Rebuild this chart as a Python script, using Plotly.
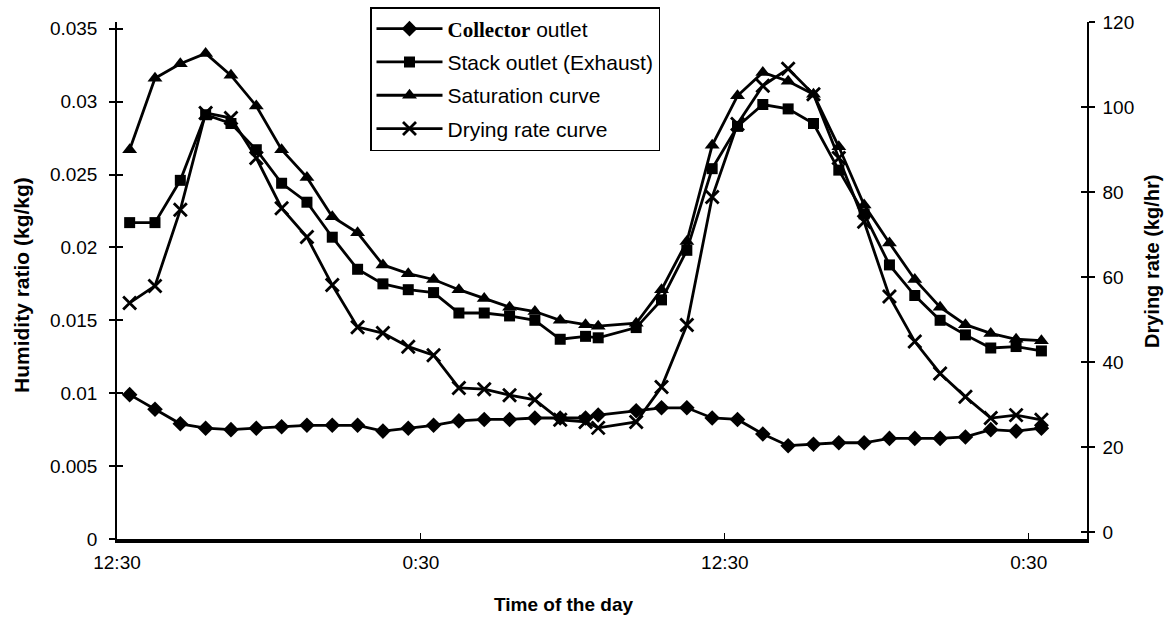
import plotly.graph_objects as go

# ---------------- data ----------------
hours = [13, 14, 15, 16, 17, 18, 19, 20, 21, 22, 23, 24, 25, 26, 27, 28, 29, 30, 31, 31.5,
         33, 34, 35, 36, 37, 38, 39, 40, 41, 42, 43, 44, 45, 46, 47, 48, 49]

collector = [0.0099, 0.0089, 0.0079, 0.0076, 0.0075, 0.0076, 0.0077, 0.0078, 0.0078, 0.0078,
             0.0074, 0.0076, 0.0078, 0.0081, 0.0082, 0.0082, 0.0083, 0.0083, 0.0083, 0.0085,
             0.0088, 0.0090, 0.0090, 0.0083, 0.0082, 0.0072, 0.0064, 0.0065, 0.0066, 0.0066,
             0.0069, 0.0069, 0.0069, 0.0070, 0.0075, 0.0074, 0.0076]

stack = [0.0217, 0.0217, 0.0246, 0.0291, 0.0285, 0.0267, 0.0244, 0.0231, 0.0207, 0.0185,
         0.0175, 0.0171, 0.0169, 0.0155, 0.0155, 0.0153, 0.0150, 0.0137, 0.0139, 0.0138,
         0.0145, 0.0164, 0.0198, 0.0254, 0.0283, 0.0298, 0.0295, 0.0285, 0.0253, 0.0223,
         0.0188, 0.0167, 0.0150, 0.0140, 0.0131, 0.0132, 0.0129]

saturation = [0.0267, 0.0316, 0.0326, 0.0333, 0.0318, 0.0297, 0.0267, 0.0248, 0.0221, 0.0210,
              0.0188, 0.0182, 0.0178, 0.0171, 0.0165, 0.0159, 0.0156, 0.0150, 0.0147, 0.0146,
              0.0148, 0.0171, 0.0204, 0.0270, 0.0304, 0.0320, 0.0314, 0.0305, 0.0269, 0.0229,
              0.0203, 0.0178, 0.0159, 0.0147, 0.0141, 0.0137, 0.0136]

drying = [53.9, 57.9, 75.8, 98.6, 97.4, 88.0, 76.2, 69.4, 58.1, 48.2,
          46.8, 43.6, 41.6, 33.9, 33.6, 32.2, 31.1, 26.4, 25.9, 24.5,
          25.9, 34.1, 48.7, 78.8, 96.0, 105.0, 109.0, 103.0, 88.0, 73.0,
          55.4, 44.8, 37.3, 31.8, 26.8, 27.5, 26.4]

x_tickvals = [12.5, 24.5, 36.5, 48.5]
x_ticktext = ["12:30", "0:30", "12:30", "0:30"]
left_ticks = [0, 0.005, 0.01, 0.015, 0.02, 0.025, 0.03, 0.035]
right_ticks = [0, 20, 40, 60, 80, 100, 120]

names = ["<span style='font-family:Liberation Serif'><b>Collector</b></span> outlet",
         "Stack outlet (Exhaust)", "Saturation curve", "Drying rate curve"]

# ---------------- figure ----------------
FONT = "Liberation Sans, Arial, sans-serif"
fig = go.Figure()
LW = 2.8

fig.add_trace(go.Scatter(x=hours, y=collector, name=names[0], mode="lines+markers",
                         line=dict(color="black", width=LW), legendgroup="a",
                         marker=dict(symbol="diamond", size=12, color="black")))
fig.add_trace(go.Scatter(x=hours, y=stack, name=names[1], mode="lines+markers",
                         line=dict(color="black", width=LW), legendgroup="b",
                         marker=dict(symbol="square", size=11, color="black")))
fig.add_trace(go.Scatter(x=hours, y=saturation, name=names[2], mode="lines+markers",
                         line=dict(color="black", width=LW), legendgroup="c",
                         marker=dict(symbol="triangle-up", size=13, color="black")))
fig.add_trace(go.Scatter(x=hours, y=drying, name=names[3], mode="lines+markers", yaxis="y2",
                         line=dict(color="black", width=LW), legendgroup="d",
                         marker=dict(symbol="x-thin", size=13, color="black",
                                     line=dict(color="black", width=2.8))))
# helper traces so the overlay tick axes are drawn
fig.add_trace(go.Scatter(x=[None], y=[None], yaxis="y3", showlegend=False, hoverinfo="skip"))
fig.add_trace(go.Scatter(x=[None], y=[None], yaxis="y4", showlegend=False, hoverinfo="skip"))

W, H = 1174, 636
ml, mr, mt, mb = 117, 87, 22, 97

yl_range = [0, 0.03546]
yr_range = [-1.65, 120]

TICKFONT = dict(family=FONT, size=19, color="black")

fig.update_layout(
    width=W, height=H,
    margin=dict(l=ml, r=mr, t=mt, b=mb, autoexpand=False),
    paper_bgcolor="white", plot_bgcolor="white",
    font=dict(family=FONT, color="black", size=19),
    showlegend=True,
    legend=dict(x=(370 - ml) / (W - ml - mr), y=(H - mb - 7) / (H - mb - mt), xanchor="left", yanchor="top",
                bgcolor="white", bordercolor="black", borderwidth=1.5,
                font=dict(family=FONT, size=21, color="black"),
                tracegroupgap=3, itemwidth=66),
    xaxis=dict(range=[12.5, 50.8], tickmode="array", tickvals=x_tickvals, ticktext=x_ticktext,
               showgrid=False, zeroline=False, showline=True, linecolor="black", linewidth=4,
               ticks="inside", ticklen=6, tickwidth=1, tickcolor="black",
               ticklabelstandoff=3, tickfont=TICKFONT),
    yaxis=dict(range=yl_range, tickmode="array", tickvals=left_ticks,
               ticktext=[("%g" % v) for v in left_ticks],
               showgrid=False, zeroline=False, showline=True, linecolor="black", linewidth=1.5,
               ticks="outside", ticklen=6, tickwidth=1.5, tickcolor="black",
               ticklabelstandoff=8, tickfont=TICKFONT),
    yaxis3=dict(overlaying="y", matches="y", side="left", showgrid=False, zeroline=False,
                showticklabels=False, tickmode="array", tickvals=left_ticks,
                ticks="inside", ticklen=6, tickwidth=1.5, tickcolor="black", showline=False),
    yaxis2=dict(range=yr_range, overlaying="y", side="right", tickmode="array", tickvals=right_ticks,
                showgrid=False, zeroline=False, showline=True, linecolor="black", linewidth=1.5,
                ticks="outside", ticklen=6, tickwidth=1.5, tickcolor="black",
                ticklabelstandoff=4, tickfont=TICKFONT),
    yaxis4=dict(overlaying="y", matches="y2", side="right", showgrid=False, zeroline=False,
                showticklabels=False, tickmode="array", tickvals=right_ticks,
                ticks="inside", ticklen=6, tickwidth=1.5, tickcolor="black", showline=False),
)

pw = W - ml - mr
ph = H - mb - mt
def px(xp):
    return (xp - ml) / pw
def py(yp):
    return (H - mb - yp) / ph

fig.add_annotation(text="<b>Humidity ratio (kg/kg)</b>", xref="paper", yref="paper",
                   x=px(21), y=py(285), textangle=-90, showarrow=False,
                   xanchor="center", yanchor="middle",
                   font=dict(family=FONT, size=21, color="black"))
fig.add_annotation(text="<b>Drying rate (kg/hr)</b>", xref="paper", yref="paper",
                   x=px(1152), y=py(262), textangle=-90, showarrow=False,
                   xanchor="center", yanchor="middle",
                   font=dict(family=FONT, size=20, color="black"))
fig.add_annotation(text="<b>Time of the day</b>", xref="paper", yref="paper",
                   x=px(563), y=py(604), showarrow=False,
                   xanchor="center", yanchor="middle",
                   font=dict(family=FONT, size=19, color="black"))

fig.write_html("out.html")
